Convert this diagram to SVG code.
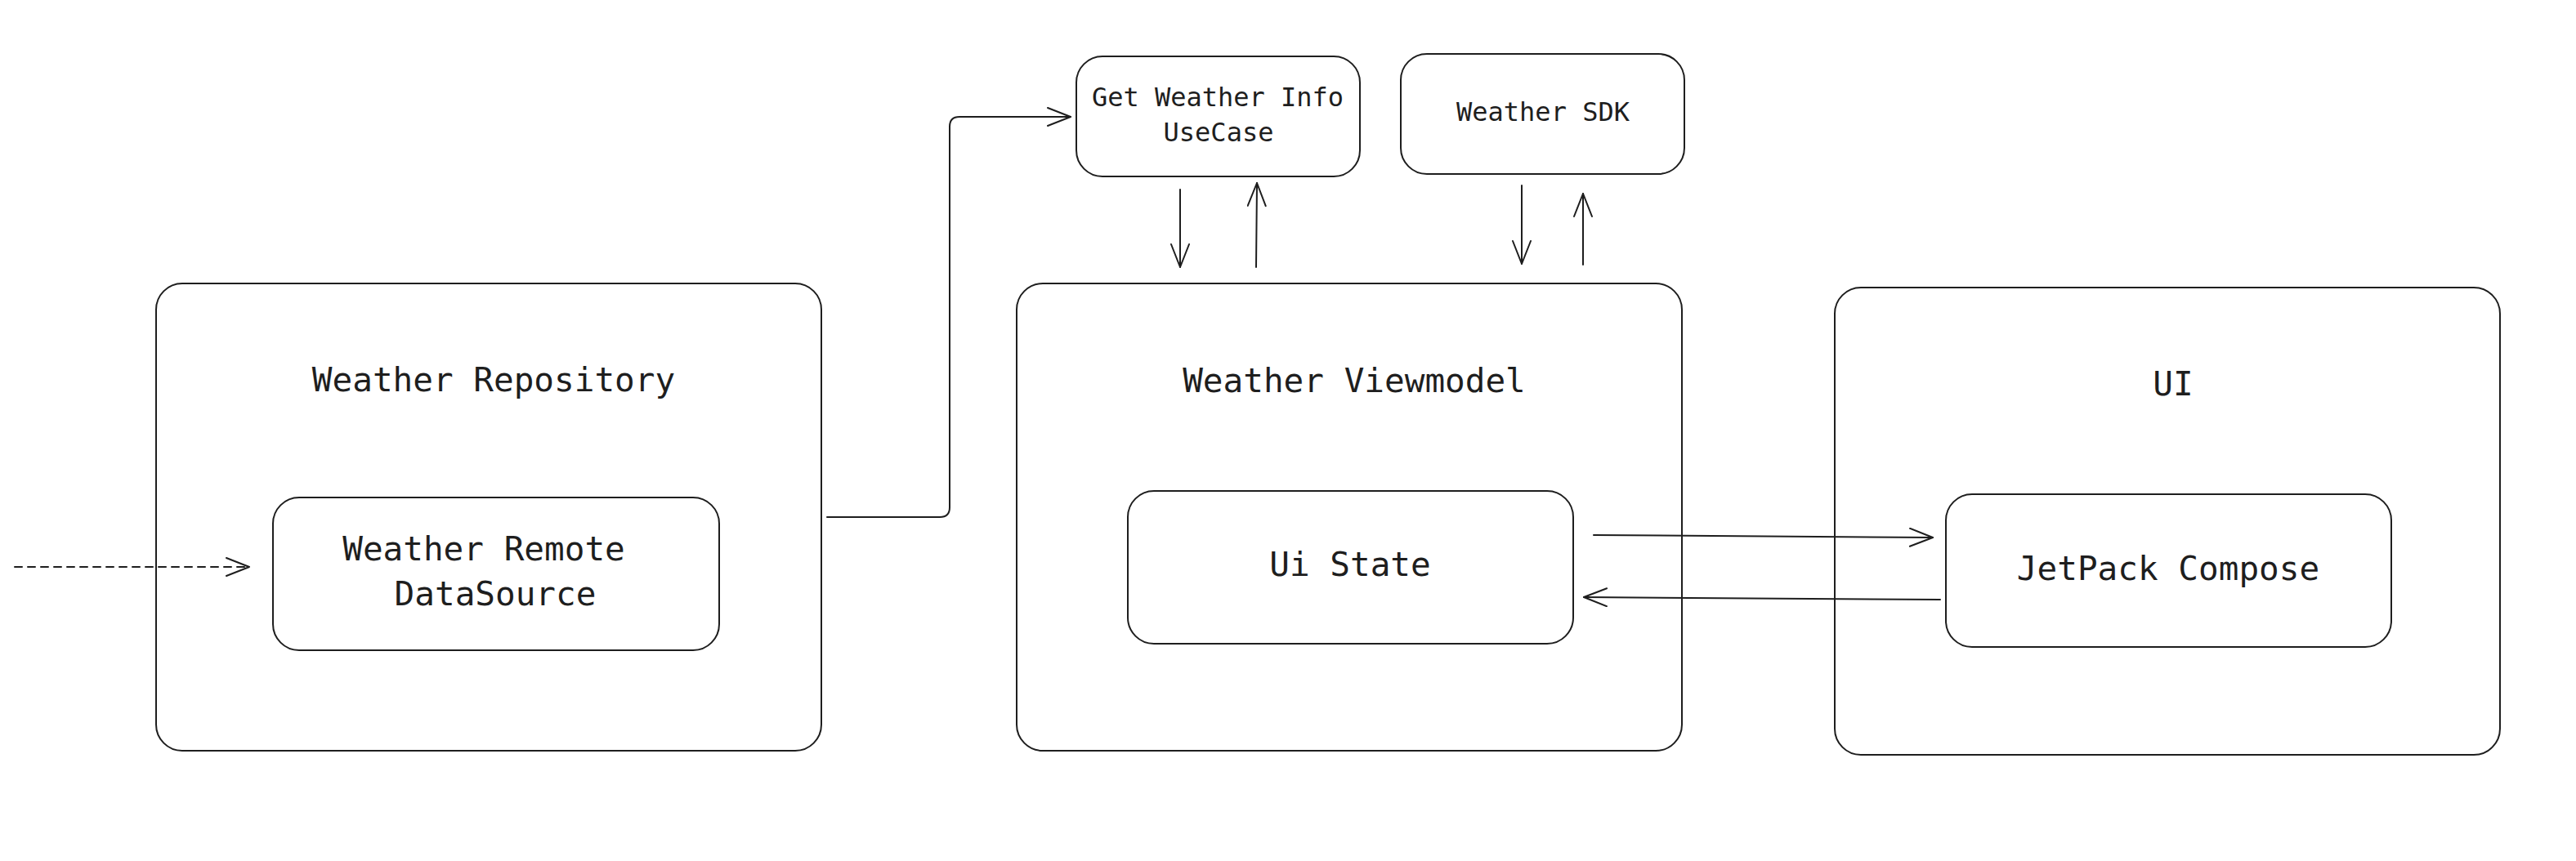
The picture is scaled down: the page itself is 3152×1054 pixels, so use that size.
<svg xmlns="http://www.w3.org/2000/svg" width="3152" height="1054" viewBox="0 0 3152 1054">
  <style>
    .box { fill: #ffffff; stroke: #1e1e1e; stroke-width: 2; }
    .lbl { font-family: "DejaVu Sans Mono", "Liberation Mono", monospace; fill: #1e1e1e; text-anchor: middle; }
    .big { font-size: 41px; }
    .small { font-size: 32px; }
    .conn { fill: none; stroke: #1e1e1e; stroke-width: 2; stroke-linecap: round; stroke-linejoin: round; marker-end: url(#arrow); }
    .dash { stroke-dasharray: 9 7; }
  </style>
  <defs>
    <marker id="arrow" markerUnits="userSpaceOnUse" viewBox="0 0 32 24" markerWidth="32" markerHeight="24" refX="30" refY="12" orient="auto">
      <path d="M2,1 L30,12 L2,23" fill="none" stroke="#1e1e1e" stroke-width="2" stroke-linecap="round" stroke-linejoin="round"/>
    </marker>
  </defs>
  <rect width="3152" height="1054" fill="#ffffff"/>

  <g id="weather-repository">
    <rect class="box" x="191" y="347" width="814" height="572" rx="32"/>
    <text class="lbl big" x="604" y="479">Weather Repository</text>
  </g>
  <g id="weather-remote-datasource">
    <rect class="box" x="334" y="609" width="546" height="187" rx="32"/>
    <text class="lbl big" x="592" y="686">Weather Remote</text>
    <text class="lbl big" x="606" y="741">DataSource</text>
  </g>
  <g id="weather-viewmodel">
    <rect class="box" x="1244" y="347" width="814" height="572" rx="32"/>
    <text class="lbl big" x="1657" y="480">Weather Viewmodel</text>
  </g>
  <g id="ui-state">
    <rect class="box" x="1380" y="601" width="545" height="187" rx="32"/>
    <text class="lbl big" x="1652" y="705">Ui State</text>
  </g>
  <g id="ui">
    <rect class="box" x="2245" y="352" width="814" height="572" rx="32"/>
    <text class="lbl big" x="2659" y="484">UI</text>
  </g>
  <g id="jetpack-compose">
    <rect class="box" x="2381" y="605" width="545" height="187" rx="32"/>
    <text class="lbl big" x="2653" y="710">JetPack Compose</text>
  </g>
  <g id="get-weather-info-usecase">
    <rect class="box" x="1317" y="69" width="347" height="147" rx="32"/>
    <text class="lbl small" x="1490" y="130">Get Weather Info</text>
    <text class="lbl small" x="1491" y="173">UseCase</text>
  </g>
  <g id="weather-sdk">
    <rect class="box" x="1714" y="66" width="347" height="147" rx="32"/>
    <text class="lbl small" x="1888" y="148">Weather SDK</text>
  </g>

  <g id="connectors">
    <path class="conn dash" d="M18,694 L305,694"/>
    <path class="conn" d="M1012,633 L1150,633 Q1162,633 1162,621 L1162,155 Q1162,143 1174,143 L1310,143"/>
    <path class="conn" d="M1444,232 L1444,327"/>
    <path class="conn" d="M1537,327 L1538,224"/>
    <path class="conn" d="M1862,227 L1862,323"/>
    <path class="conn" d="M1937,324 L1937,237"/>
    <path class="conn" d="M1950,655 L2365,658"/>
    <path class="conn" d="M2374,734 L1938,731"/>
  </g>
</svg>
